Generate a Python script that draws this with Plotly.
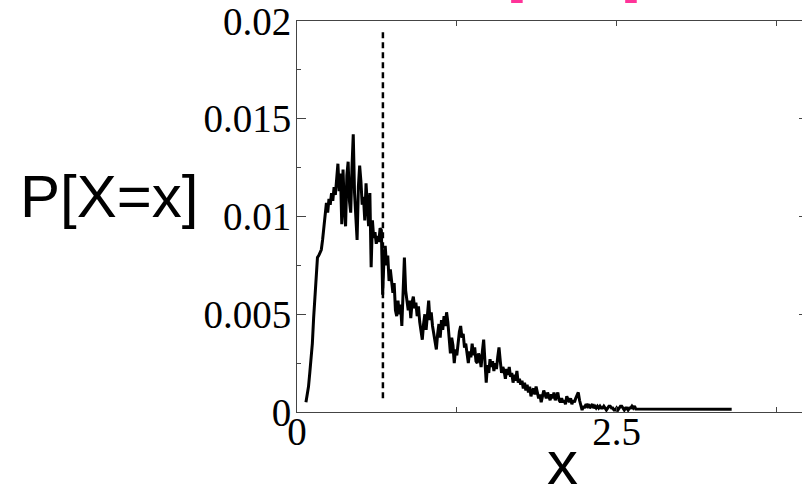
import numpy as np
import plotly.graph_objects as go

# ---- data ----
bin_start = 0.07
bin_step = 0.01
prob = [
    0.0005, 0.0009, 0.0013, 0.0020, 0.0026, 0.0035, 0.0048, 0.0057, 0.0070, 0.0079,
    0.0080, 0.0082, 0.0083, 0.0088, 0.0095, 0.0104, 0.0107, 0.0102, 0.0109, 0.0106,
    0.0112, 0.0108, 0.0115, 0.0111, 0.0118, 0.0127, 0.0113, 0.0122, 0.0096, 0.0124,
    0.0105, 0.0095, 0.0121, 0.0128, 0.0108, 0.0102, 0.0125, 0.0142, 0.0112, 0.0102,
    0.0088, 0.0115, 0.0126, 0.0118, 0.0106, 0.0110, 0.0098, 0.0117, 0.0103, 0.0095,
    0.0112, 0.0074, 0.0098, 0.0089, 0.0092, 0.0086, 0.0090, 0.0087, 0.0094, 0.0093,
    0.0060, 0.0078, 0.0085, 0.0075, 0.0080, 0.0067, 0.0073, 0.0068, 0.0061, 0.0066,
    0.0052, 0.0049, 0.0057, 0.0050, 0.0055, 0.0044, 0.0058, 0.0079, 0.0062, 0.0055,
    0.0052, 0.0057, 0.0048, 0.0056, 0.0059, 0.0053, 0.0056, 0.0049, 0.0054, 0.0046,
    0.0042, 0.0037, 0.0045, 0.0050, 0.0042, 0.0052, 0.0057, 0.0047, 0.0051, 0.0044,
    0.0040, 0.0034, 0.0032, 0.0040, 0.0045, 0.0038, 0.0047, 0.0042, 0.0049, 0.0044,
    0.0051, 0.0046, 0.0036, 0.0030, 0.0038, 0.0034, 0.0025, 0.0032, 0.0029, 0.0036,
    0.0041, 0.0044, 0.0038, 0.0040, 0.0033, 0.0035, 0.0030, 0.0025, 0.0031, 0.0028,
    0.0035, 0.0029, 0.0033, 0.0026, 0.0025, 0.0030, 0.0028, 0.0023, 0.0031, 0.0037,
    0.0026, 0.0015, 0.0024, 0.0020, 0.0027, 0.0023, 0.0026, 0.0021, 0.0025, 0.0022,
    0.0028, 0.0033, 0.0026, 0.0020, 0.0023, 0.0021, 0.0017, 0.0022, 0.0019, 0.0023,
    0.0018, 0.0020, 0.0015, 0.0019, 0.0016, 0.0021, 0.0015, 0.0017, 0.0014, 0.0016,
    0.0012, 0.0015, 0.0011, 0.0014, 0.0010, 0.0013, 0.0008, 0.0011, 0.0012, 0.0009,
    0.0013, 0.0010, 0.0007, 0.0009, 0.0005, 0.0008, 0.0011, 0.0009, 0.0007, 0.0010,
    0.0008, 0.0006, 0.0009, 0.0007, 0.0010, 0.0006, 0.0008, 0.0010, 0.0006, 0.0005,
    0.0007, 0.0005, 0.0006, 0.0004, 0.0008, 0.0006, 0.0005, 0.0007, 0.0004, 0.0006,
    0.0005, 0.0007, 0.0009, 0.0010, 0.0006, 0.0003, 0.0001, 0.0003, 0.0002, 0.0004,
    0.0003, 0.0004, 0.0002, 0.0003, 0.0004, 0.0002, 0.0003, 0.0002, 0.0003, 0.0002,
    0.0003, 0.0002, 0.0002, 0.0003, 0.0002, 0.0001, 0.0002, 0.0003, 0.0003, 0.0002,
    0.0002, 0.0001, 0.0001, 0.0002, 0.0001, 0.0002, 0.0003, 0.0003, 0.0002, 0.0001,
    0.0002, 0.0002, 0.0001, 0.0002, 0.0002, 0.0003, 0.0002, 0.0003, 0.00015, 0.00015,
]
tail_x = [3.40]
tail_y = [0.00014]

mean_x = 0.672
mean_line_y = [0.0007, 0.0195]

x_range = [0, 3.95]
y_range = [0, 0.02]
x_tick_step = 2.5
x_minor_step = 1.25
y_tick_step = 0.005
y_minor_step = 0.0025

y_label = "P[X=x]"
x_label = "x"
top_label = "[X=x]"

# ---- build ----
x_bins = [round(bin_start + i * bin_step, 4) for i in range(len(prob))]
xs = x_bins + tail_x
ys = prob + tail_y

fig = go.Figure()
fig.add_trace(go.Scatter(x=xs, y=ys, mode="lines",
                         line=dict(color="black", width=3),
                         showlegend=False, hoverinfo="skip"))
fig.add_trace(go.Scatter(x=[mean_x, mean_x], y=mean_line_y, mode="lines",
                         line=dict(color="black", width=2.5, dash="6px,4px"),
                         showlegend=False, hoverinfo="skip"))
fig.add_trace(go.Scatter(x=[None], y=[None], yaxis="y2", showlegend=False,
                         hoverinfo="skip"))

tick_font = dict(family="Liberation Serif", size=39, color="black")
axis_col = "#444444"

fig.update_layout(
    width=802, height=490,
    margin=dict(l=297, r=0, t=21, b=78, autoexpand=False),
    paper_bgcolor="white", plot_bgcolor="white",
    xaxis=dict(range=x_range, dtick=x_tick_step, tick0=0,
               ticks="inside", ticklen=5, tickwidth=1, tickcolor=axis_col,
               minor=dict(dtick=x_minor_step, tick0=0, ticks="inside", ticklen=5,
                          tickwidth=1, tickcolor=axis_col, showgrid=False),
               showline=True, linecolor=axis_col, linewidth=1, mirror="allticks",
               showgrid=False, zeroline=False, tickfont=tick_font, automargin=False,
               ticklabelstandoff=-15, ticklabeloverflow="allow"),
    yaxis=dict(range=y_range, dtick=y_tick_step, tick0=0,
               ticks="inside", ticklen=9, tickwidth=1, tickcolor=axis_col,
               minor=dict(dtick=y_minor_step, tick0=0, ticks="inside", ticklen=4,
                          tickwidth=1, tickcolor=axis_col, showgrid=False),
               showline=True, linecolor=axis_col, linewidth=1,
               showgrid=False, zeroline=False, tickfont=tick_font, automargin=False,
               ticklabelstandoff=-3, ticklabeloverflow="allow"),
    yaxis2=dict(range=y_range, dtick=y_tick_step, tick0=0, overlaying="y", side="right",
                ticks="inside", ticklen=3, tickwidth=1, tickcolor=axis_col,
                showticklabels=False, showline=False, showgrid=False, zeroline=False),
    annotations=[
        dict(text=y_label, xref="paper", yref="paper", x=-0.5525, y=0.642,
             xanchor="left", yanchor="top", showarrow=False,
             font=dict(family="Liberation Sans", size=60, color="black")),
        dict(text=x_label, xref="paper", yref="paper", x=0.525, y=-0.036,
             xanchor="center", yanchor="top", showarrow=False,
             font=dict(family="Liberation Sans", size=62, color="black")),
        dict(text=top_label, xref="paper", yref="paper", x=0.5485, y=1.218,
             xanchor="center", yanchor="top", showarrow=False,
             font=dict(family="Liberation Sans", size=58, color="#ff3399")),
    ],
)

fig.write_html("out.html")
